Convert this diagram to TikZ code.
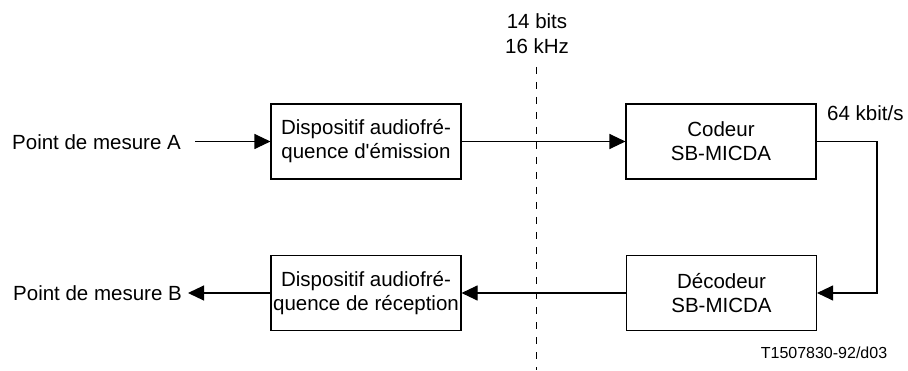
\documentclass[tikz,border=0pt]{standalone}
\usepackage{fontspec}
\setmainfont{Liberation Sans}
\usetikzlibrary{arrows.meta}

\begin{document}
\begin{tikzpicture}[x=1pt,y=1pt]
\useasboundingbox (0,0) rectangle (908,370);

\begin{scope}[every node/.style={draw,line width=1.1pt,minimum width=190pt,minimum height=75pt,
              inner sep=0pt,align=center,font=\fontsize{20.5}{24}\selectfont}]
    \node (emission) at (366,228.5) {Dispositif audiofré-\\quence d\textquotesingle émission};
    \node (codeur) at (721,228.5) {Codeur\\SB-MICDA};
    \node (decodeur) at (721.5,77) {Décodeur\\SB-MICDA};
    \node (reception) at (366,77) {Dispositif audiofré-\\quence de réception};
\end{scope}

\begin{scope}[every node/.style={inner sep=0pt,font=\fontsize{20.5}{25}\selectfont}]
    \node[anchor=west] (pointA) at (12,228) {Point de mesure A};
    \node[anchor=west] (pointB) at (13,77) {Point de mesure B};
    \node[align=center] (rate) at (537,336.5) {14 bits\\16 kHz};
    \node[anchor=west] (debit) at (827,257) {64 kbit/s};
    \node[font=\fontsize{16}{18}\selectfont] (ref) at (824,17) {T1507830-92/d03};
\end{scope}

\coordinate (entreeA) at (195,228.5);
\coordinate (sortieB) at (188,77);
\coordinate (coin) at (877,228.5);
\coordinate (limite) at (536,303);

% interface line
\draw[line width=0.8pt,dash pattern=on 7pt off 8pt] (limite) -- (limite |- 0,0);

\begin{scope}[>={Triangle[length=16pt,width=15pt]}, line width=1.1pt]
    \draw[->] (entreeA) -- (emission);
    \draw[->] (emission) -- (codeur);
    \draw[->] (codeur.east) -- (coin) |- (decodeur.east);
    \draw[->] (decodeur) -- (reception);
    \draw[->] (reception) -- (sortieB);
\end{scope}
\end{tikzpicture}
\end{document}
